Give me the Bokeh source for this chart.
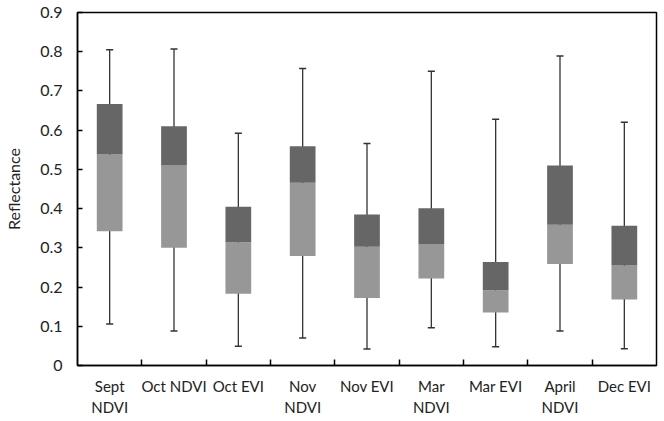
from bokeh.plotting import figure
from bokeh.models import FixedTicker, Range1d
from bokeh.embed import file_html
from bokeh.resources import INLINE

categories = ["Sept\nNDVI", "Oct NDVI", "Oct EVI", "Nov\nNDVI", "Nov EVI",
              "Mar\nNDVI", "Mar EVI", "April\nNDVI", "Dec EVI"]
whisker_low = [0.106, 0.088, 0.049, 0.070, 0.042, 0.096, 0.048, 0.088, 0.043]
q1 = [0.342, 0.300, 0.183, 0.279, 0.172, 0.222, 0.135, 0.259, 0.168]
median = [0.538, 0.511, 0.314, 0.466, 0.303, 0.310, 0.192, 0.359, 0.255]
q3 = [0.667, 0.610, 0.405, 0.559, 0.385, 0.401, 0.264, 0.510, 0.356]
whisker_high = [0.805, 0.807, 0.592, 0.757, 0.566, 0.750, 0.628, 0.789, 0.620]
y_ticks = [0, 0.1, 0.2, 0.3, 0.4, 0.5, 0.6, 0.7, 0.8, 0.9]
y_tick_labels = ["0", "0.1", "0.2", "0.3", "0.4", "0.5", "0.6", "0.7", "0.8", "0.9"]

n = len(categories)
centers = [i + 0.5 for i in range(n)]
bounds = [i for i in range(1, n)]

FONT = "Lato"
TXT = "#222222"

p = figure(output_backend="svg", toolbar_location=None,
           frame_width=579, frame_height=353,
           x_range=Range1d(0, n), y_range=Range1d(0, 0.9),
           min_border_left=77, min_border_top=12, min_border_right=4,
           min_border_bottom=48)
p.background_fill_color = "white"
p.border_fill_color = "white"
p.outline_line_color = "black"
p.outline_line_width = 1.5
p.xgrid.visible = False
p.ygrid.visible = False

cap = 0.055
p.segment(x0=centers, y0=whisker_low, x1=centers, y1=whisker_high,
          line_color="#333333", line_width=1.3)
p.segment(x0=[c - cap for c in centers], y0=whisker_high,
          x1=[c + cap for c in centers], y1=whisker_high,
          line_color="#333333", line_width=1.5)
p.segment(x0=[c - cap for c in centers], y0=whisker_low,
          x1=[c + cap for c in centers], y1=whisker_low,
          line_color="#333333", line_width=1.5)

bw = 0.40
p.vbar(x=centers, width=bw, bottom=q1, top=median,
       fill_color="#979797", line_color=None)
p.vbar(x=centers, width=bw, bottom=median, top=q3,
       fill_color="#666666", line_color=None)

xa = p.xaxis[0]
xa.ticker = FixedTicker(ticks=centers, minor_ticks=bounds)
xa.major_label_overrides = {c: lab for c, lab in zip(centers, categories)}
xa.major_tick_in = 0
xa.major_tick_out = 0
xa.minor_tick_in = 6
xa.minor_tick_out = 0
xa.minor_tick_line_color = "black"
xa.minor_tick_line_width = 1.5
xa.axis_line_color = "black"
xa.axis_line_width = 1.5
xa.major_label_text_font = FONT
xa.major_label_text_font_size = "15px"
xa.major_label_text_color = TXT
xa.major_label_standoff = 11

ya = p.yaxis[0]
ya.ticker = FixedTicker(ticks=y_ticks, minor_ticks=[])
ya.major_label_overrides = {t: lab for t, lab in zip(y_ticks, y_tick_labels)}
ya.major_tick_in = 5
ya.major_tick_out = 0
ya.major_tick_line_color = "black"
ya.major_tick_line_width = 1.5
ya.axis_line_color = "black"
ya.axis_line_width = 1.5
ya.major_label_text_font = FONT
ya.major_label_text_font_size = "16px"
ya.major_label_text_color = TXT
ya.major_label_standoff = 15
ya.axis_label = "Reflectance"
ya.axis_label_text_font = FONT
ya.axis_label_text_font_size = "16px"
ya.axis_label_text_font_style = "normal"
ya.axis_label_text_color = TXT
ya.axis_label_standoff = 14

open("out.html", "w").write(file_html(p, INLINE))
